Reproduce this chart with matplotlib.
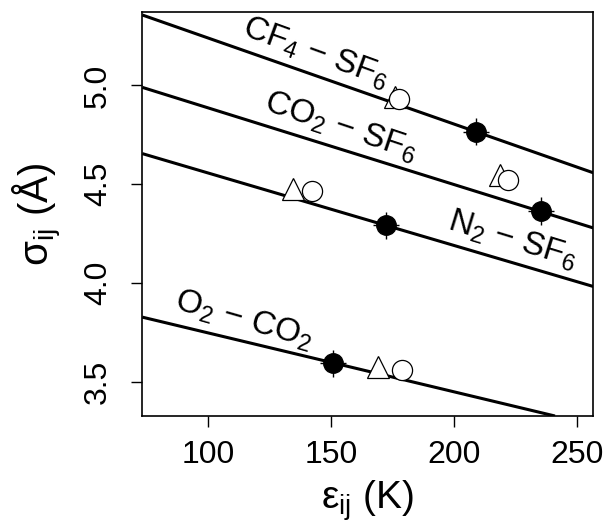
import matplotlib
matplotlib.use("Agg")
from matplotlib import pyplot as plt

plt.rcParams['font.family'] = ['Liberation Sans', 'DejaVu Sans']
plt.rcParams['mathtext.fontset'] = 'custom'
plt.rcParams['mathtext.rm'] = 'Liberation Sans'
plt.rcParams['mathtext.it'] = 'Liberation Sans'

# straight lines: endpoints (eps, sigma)
line_names = ["CF4-SF6", "CO2-SF6", "N2-SF6", "O2-CO2"]
line_x = [[73.1, 256.8], [73.1, 256.8], [73.1, 256.8], [73.1, 241.2]]
line_y = [[5.356, 4.558], [4.990, 4.279], [4.655, 3.983], [3.828, 3.328]]

# filled points with error bars
fill_x = [209.0, 235.5, 172.2, 150.6]
fill_y = [4.765, 4.365, 4.293, 3.595]
err_x = 5.3
err_y = 0.069

# open triangles and circles
tri_x = [176.0, 218.8, 134.6, 169.0]
tri_y = [4.942, 4.546, 4.478, 3.578]
circ_x = [177.8, 222.2, 142.3, 179.0]
circ_y = [4.929, 4.520, 4.465, 3.561]

labels = [r"CF$_4$ $-$ SF$_6$", r"CO$_2$ $-$ SF$_6$", r"N$_2$ $-$ SF$_6$", r"O$_2$ $-$ CO$_2$"]
label_x = [143.9, 153.9, 223.8, 114.3]
label_y = [5.162, 4.790, 4.217, 3.811]
label_rot = [-20, -18.5, -17, -16]

fig = plt.figure(figsize=(6.1, 5.25), dpi=100)
ax = fig.add_axes([0.2333, 0.2076, 0.7393, 0.7695])

for lx, ly in zip(line_x, line_y):
    ax.plot(lx, ly, color="k", lw=2.2, solid_capstyle="butt", zorder=2)

ax.errorbar(fill_x, fill_y, xerr=err_x, yerr=err_y, fmt="none", ecolor="k",
            elinewidth=1.0, capsize=0, zorder=3)
ax.plot(fill_x, fill_y, "o", color="k", ms=14, zorder=4)
ax.plot(tri_x, tri_y, "^", mfc="white", mec="k", mew=0.9, ms=16, ls="none", zorder=4)
ax.plot(circ_x, circ_y, "o", mfc="white", mec="k", mew=0.9, ms=14.5, ls="none", zorder=5)

for t, x, y, r in zip(labels, label_x, label_y, label_rot):
    ax.text(x, y, t, rotation=r, ha="center", va="center", rotation_mode="anchor",
            fontsize=24)

ax.set_xlim(73.1, 256.8)
ax.set_ylim(3.328, 5.371)
ax.set_xticks([100, 150, 200, 250])
ax.set_yticks([3.5, 4.0, 4.5, 5.0])
ax.set_yticklabels(["3.5", "4.0", "4.5", "5.0"], rotation=90, va="center")
ax.tick_params(direction="out", length=8, width=1, labelsize=23)
ax.tick_params(axis="x", pad=9)
ax.tick_params(axis="y", pad=13)
for s in ax.spines.values():
    s.set_linewidth(1.2)

ax.set_xlabel(r"$\mathregular{ε_{ij}}$ (K)", fontsize=28, labelpad=6)
ax.set_ylabel(r"$\mathregular{σ_{ij}}$ (Å)", fontsize=29, labelpad=14)

fig.savefig("out.png", dpi=100)
